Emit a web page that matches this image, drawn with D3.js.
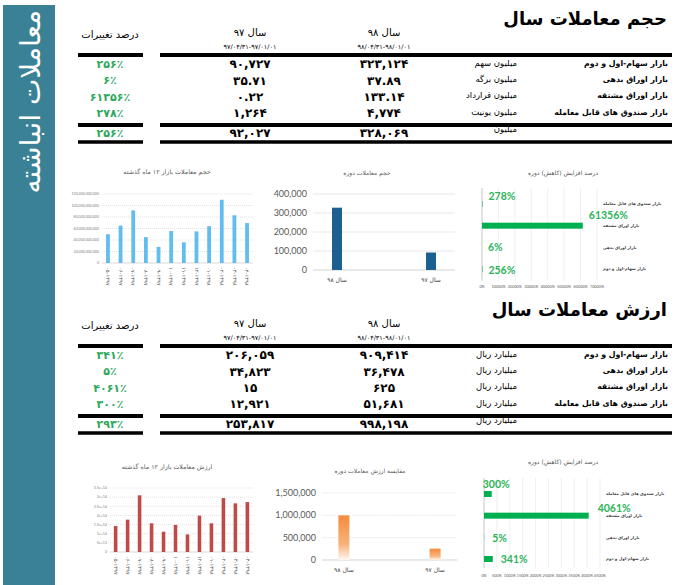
<!DOCTYPE html>
<html>
<head>
<meta charset="utf-8">
<script src="https://cdn.jsdelivr.net/npm/d3@7"></script>
<style>
  body { margin: 0; background: #fff; }
  svg { display: block; }
</style>
</head>
<body>
<svg id="chart" width="674" height="585"></svg>
<script>
// ---- data ----
const markets = ["بازار سهام-اول و دوم", "بازار اوراق بدهی", "بازار اوراق مشتقه", "بازار صندوق های قابل معامله"];
const periods = ["سال ۹۸", "سال ۹۷"];

const volUnits = ["میلیون سهم", "میلیون برگه", "میلیون قرارداد", "میلیون یونیت"];
const volTotalUnit = "میلیون";
const vol97 = [90727, 35.71, 0.22, 1264];
const vol98 = [323124, 37.89, 133.14, 4774];
const volChange = [256, 6, 61356, 278];
const volTotal97 = 92027;
const volTotal98 = 328069;
const volTotalChange = 256;

const valUnit = "میلیارد ریال";
const val97 = [206059, 34823, 15, 12921];
const val98 = [909414, 36478, 625, 51681];
const valChange = [341, 5, 4061, 300];
const valTotal97 = 253817;
const valTotal98 = 998198;
const valTotalChange = 293;

const months = ["۰۵-۱۳۹۷", "۰۶-۱۳۹۷", "۰۷-۱۳۹۷", "۰۸-۱۳۹۷", "۰۹-۱۳۹۷", "۱۰-۱۳۹۷",
                "۱۱-۱۳۹۷", "۱۲-۱۳۹۷", "۰۱-۱۳۹۸", "۰۲-۱۳۹۸", "۰۳-۱۳۹۸", "۰۴-۱۳۹۸"];
// monthly volume, billion shares
const monthlyVol = [50, 65, 91.5, 45, 28, 55.5, 36, 55, 64, 110, 83, 69.5];
// monthly value, thousand billion rial
const monthlyVal = [142, 177, 310, 157, 111, 148, 96, 199, 157, 295, 266, 273];

const volTicks = [0, 20, 40, 60, 80, 100, 120];           // x 1e9
const valTicks = [0, 50, 100, 150, 200, 250, 300, 350];   // x 1e12
const volPeriodTicks = [0, 100000, 200000, 300000, 400000];
const valPeriodTicks = [0, 500000, 1000000, 1500000];
const volPctTicks = [0, 10000, 20000, 30000, 40000, 50000, 60000, 70000];
const valPctTicks = [0, 500, 1000, 1500, 2000, 2500, 3000, 3500, 4000, 4500];

// ---- helpers ----
const svg = d3.select("#chart");
const FA = "'DejaVu Sans', sans-serif";
const LAT = "Lato, 'Open Sans', sans-serif";
const GREEN = "#2ea85c";
const fa = s => String(s).replace(/\d/g, d => "۰۱۲۳۴۵۶۷۸۹"[+d]);
const fmtNum = v => fa(Number.isInteger(v) ? d3.format(",")(v) : d3.format(",.2f")(v));
const fmtPct = v => fa(v) + "٪";

// side band
svg.append("rect")
    .attr("x", 3).attr("y", 5).attr("width", 52).attr("height", 580)
    .attr("fill", "#3b8196");
svg.append("text")
    .attr("transform", "translate(40,10) rotate(-90)")
    .attr("text-anchor", "end")
    .attr("fill", "#fff")
    .style("font", `28px ${FA}`)
    .text("معاملات انباشته");

function drawTable(top, title, units, totalUnit, v97, v98, chg, t97, t98, tChg) {
    let g = svg.append("g").attr("transform", `translate(0,${top})`);
    let rowY = d3.scalePoint().domain(markets).range([64, 113]);
    let totalY = 133;

    g.append("text")
        .attr("x", 667).attr("y", 25).attr("text-anchor", "end")
        .style("font", `bold 18px ${FA}`)
        .text(title);

    g.append("text").attr("x", 110).attr("y", 38).attr("text-anchor", "middle")
        .style("font", `10px ${FA}`).text("درصد تغییرات");
    [["سال ۹۷", "۹۷/۰۴/۳۱-۹۷/۰۱/۰۱", 250], ["سال ۹۸", "۹۸/۰۴/۳۱-۹۸/۰۱/۰۱", 384]].forEach(h => {
        g.append("text").attr("x", h[2]).attr("y", 36).attr("text-anchor", "middle")
            .style("font", `10px ${FA}`).text(h[0]);
        g.append("text").attr("x", h[2]).attr("y", 49).attr("text-anchor", "middle")
            .style("font", `6.5px ${FA}`).text(h[1]);
    });

    // rules
    [[55, 4], [125, 4], [142, 3.5]].forEach(r => {
        [[78, 143], [160, 672]].forEach(s => {
            g.append("rect").attr("x", s[0]).attr("y", r[0] - r[1] / 2)
                .attr("width", s[1] - s[0]).attr("height", r[1]).attr("fill", "#000");
        });
    });

    let rows = g.append("g").selectAll("g").data(markets).join("g")
        .attr("transform", d => `translate(0,${rowY(d)})`);
    rows.append("text").attr("x", 110).attr("dy", "0.35em").attr("text-anchor", "middle")
        .attr("fill", GREEN).style("font", `bold 11px ${FA}`)
        .text((d, i) => fmtPct(chg[i]));
    rows.append("text").attr("x", 250).attr("dy", "0.35em").attr("text-anchor", "middle")
        .style("font", `bold 12px ${FA}`).text((d, i) => fmtNum(v97[i]));
    rows.append("text").attr("x", 384).attr("dy", "0.35em").attr("text-anchor", "middle")
        .style("font", `bold 12px ${FA}`).text((d, i) => fmtNum(v98[i]));
    rows.append("text").attr("x", 517).attr("dy", "0.2em").attr("text-anchor", "end")
        .style("font", `8.5px ${FA}`).text((d, i) => units[i]);
    rows.append("text").attr("x", 668).attr("dy", "0.2em").attr("text-anchor", "end")
        .style("font", `bold 7.8px ${FA}`).text(d => d);

    let tot = g.append("g").attr("transform", `translate(0,${totalY})`);
    tot.append("text").attr("x", 110).attr("dy", "0.35em").attr("text-anchor", "middle")
        .attr("fill", GREEN).style("font", `bold 11px ${FA}`).text(fmtPct(tChg));
    tot.append("text").attr("x", 250).attr("dy", "0.35em").attr("text-anchor", "middle")
        .style("font", `bold 12px ${FA}`).text(fmtNum(t97));
    tot.append("text").attr("x", 384).attr("dy", "0.35em").attr("text-anchor", "middle")
        .style("font", `bold 12px ${FA}`).text(fmtNum(t98));
    tot.append("text").attr("x", 517).attr("dy", "-0.1em").attr("text-anchor", "end")
        .style("font", `8.5px ${FA}`).text(totalUnit);
}

function drawMonthly(o) {
    let g = svg.append("g");
    let x = d3.scaleBand().domain(months).range([o.x0, o.x1]).paddingInner(0.7).paddingOuter(0.32);
    let y = d3.scaleLinear().domain([0, d3.max(o.ticks)]).range([o.yBot, o.yTop]);

    g.append("text").attr("x", 167).attr("y", o.titleY).attr("text-anchor", "middle")
        .attr("fill", "#595959").style("font", `6.3px ${FA}`).text(o.title);

    g.append("g").selectAll("line").data(o.ticks.slice(1)).join("line")
        .attr("x1", o.x0).attr("x2", o.x1).attr("y1", d => y(d)).attr("y2", d => y(d))
        .attr("stroke", "#d0d0d0").attr("stroke-width", 0.6).attr("stroke-dasharray", "1,1");
    g.append("line").attr("x1", o.x0).attr("x2", o.x1).attr("y1", y(0)).attr("y2", y(0))
        .attr("stroke", "#bfbfbf").attr("stroke-width", 0.6);

    g.append("g").selectAll("text").data(o.ticks).join("text")
        .attr("x", o.x0 - 3).attr("y", d => y(d)).attr("dy", "0.35em").attr("text-anchor", "end")
        .attr("fill", "#7f7f7f").style("font", `3.6px ${LAT}`)
        .text(d => d3.format(",")(d * o.unit));

    g.append("g").selectAll("rect").data(o.values).join("rect")
        .attr("x", (d, i) => x(months[i])).attr("width", x.bandwidth())
        .attr("y", d => y(d)).attr("height", d => y(0) - y(d))
        .attr("fill", o.color);

    g.append("g").selectAll("text").data(months).join("text")
        .attr("transform", d => `translate(${x(d) + x.bandwidth() / 2 - 1.8},${o.yBot + 4}) rotate(90)`)
        .attr("text-anchor", "start")
        .attr("fill", "#595959").style("font", `5.2px ${FA}`)
        .text(d => d);
}

function drawPeriod(o) {
    let g = svg.append("g");
    let x = d3.scalePoint().domain(periods).range([o.x0, o.x1]).padding(o.pad);
    let y = d3.scaleLinear().domain([0, d3.max(o.ticks)]).range([o.yBot, o.yTop]);

    g.append("text").attr("x", o.titleX).attr("y", o.titleY).attr("text-anchor", "middle")
        .attr("fill", "#595959").style("font", `6px ${FA}`).text(o.title);

    g.append("g").selectAll("line").data(o.ticks).join("line")
        .attr("x1", o.x0).attr("x2", o.x1).attr("y1", d => y(d)).attr("y2", d => y(d))
        .attr("stroke", d => d === 0 ? "#bfbfbf" : "#dcdcdc").attr("stroke-width", 0.7)
        .attr("stroke-dasharray", d => d === 0 ? null : o.dash);

    g.append("g").selectAll("text").data(o.ticks).join("text")
        .attr("x", o.x0 - 6).attr("y", d => y(d)).attr("dy", "0.35em").attr("text-anchor", "end")
        .attr("fill", "#595959").style("font", `9px ${LAT}`)
        .text(d => d3.format(",")(d));

    g.append("g").selectAll("rect").data(o.values).join("rect")
        .attr("x", (d, i) => x(periods[i]) - o.barW / 2).attr("width", o.barW)
        .attr("y", d => y(d)).attr("height", d => y(0) - y(d))
        .attr("fill", o.fill);

    g.append("g").selectAll("text").data(periods).join("text")
        .attr("x", d => x(d)).attr("y", o.yBot + 12).attr("text-anchor", "middle")
        .attr("fill", "#404040").style("font", `6px ${FA}`)
        .text(d => d);
}

function drawPct(o) {
    let g = svg.append("g");
    let rowsTopDown = markets.slice().reverse();
    let x = d3.scaleLinear().domain([0, d3.max(o.ticks)]).range([o.x0, o.x1]);
    let y = d3.scalePoint().domain(rowsTopDown).range([o.yRow0, o.yRow1]);

    g.append("text").attr("x", o.titleX).attr("y", o.titleY).attr("text-anchor", "middle")
        .attr("fill", "#595959").style("font", `6px ${FA}`).text("درصد افزایش (کاهش) دوره");

    g.append("g").selectAll("line").data(o.ticks).join("line")
        .attr("x1", d => x(d)).attr("x2", d => x(d)).attr("y1", o.gridTop).attr("y2", o.gridBot)
        .attr("stroke", d => d === 0 ? "#bfbfbf" : "#e6e6e6").attr("stroke-width", d => d === 0 ? 0.9 : 0.6);

    g.append("g").selectAll("text").data(o.ticks).join("text")
        .attr("x", d => x(d)).attr("y", o.tickY).attr("text-anchor", "middle")
        .attr("fill", "#595959").style("font", `3.8px ${LAT}`)
        .text(d => d + "%");

    g.append("g").selectAll("text").data(rowsTopDown).join("text")
        .attr("x", o.labelX).attr("y", d => y(d)).attr("dy", "0.35em")
        .attr("fill", "#404040").style("font", `bold 4px ${FA}`)
        .text(d => d);

    g.append("g").selectAll("rect").data(markets).join("rect")
        .attr("x", o.x0).attr("width", (d, i) => x(o.values[i]) - o.x0)
        .attr("y", d => y(d) - 3).attr("height", 6)
        .attr("fill", "#00b050");

    g.append("g").selectAll("text").data(markets).join("text")
        .attr("x", (d, i) => x(o.values[i]) + o.dx[i])
        .attr("y", (d, i) => y(d) + o.dy[i]).attr("dy", "0.35em")
        .attr("fill", "#2db35a").style("font", `bold 10.5px ${LAT}`)
        .text((d, i) => o.values[i] + "%");
}

// gradient for value bars
const defs = svg.append("defs");
const grad = defs.append("linearGradient").attr("id", "orangeGrad")
    .attr("x1", 0).attr("y1", 0).attr("x2", 0).attr("y2", 1);
grad.append("stop").attr("offset", "0%").attr("stop-color", "#f58b3d");
grad.append("stop").attr("offset", "65%").attr("stop-color", "#f9b27c");
grad.append("stop").attr("offset", "100%").attr("stop-color", "#fff7f0");

// ---- section 1: volume ----
drawTable(0, "حجم معاملات سال", volUnits, volTotalUnit, vol97, vol98, volChange, volTotal97, volTotal98, volTotalChange);

drawMonthly({
    x0: 102, x1: 253, yTop: 194, yBot: 263, ticks: volTicks, unit: 1e9,
    values: monthlyVol, color: "#61bdee", title: "حجم معاملات بازار ۱۲ ماه گذشته", titleY: 174
});
drawPeriod({
    x0: 313, x1: 455, yTop: 194, yBot: 270, ticks: volPeriodTicks, pad: 0.255, barW: 10,
    values: [volTotal98, volTotal97], fill: "#1b6090", dash: null,
    title: "حجم معاملات دوره", titleX: 367, titleY: 175
});
drawPct({
    x0: 482, x1: 597, ticks: volPctTicks, yRow0: 204, yRow1: 269, gridTop: 188, gridBot: 281,
    tickY: 288, labelX: 603, values: volChange, dx: [6, 6, 6, 6], dy: [1, 0, -10, -8],
    titleX: 563, titleY: 175
});

// ---- section 2: value ----
drawTable(291, "ارزش معاملات سال", [valUnit, valUnit, valUnit, valUnit], valUnit, val97, val98, valChange, valTotal97, valTotal98, valTotalChange);

drawMonthly({
    x0: 110, x1: 253, yTop: 488, yBot: 552, ticks: valTicks, unit: 1e12,
    values: monthlyVal, color: "#be4b48", title: "ارزش معاملات بازار ۱۲ ماه گذشته", titleY: 469
});
drawPeriod({
    x0: 322, x1: 457, yTop: 493, yBot: 560, ticks: valPeriodTicks, pad: 0.24, barW: 11,
    values: [valTotal98, valTotal97], fill: "url(#orangeGrad)", dash: "1.5,1",
    title: "مقایسه ارزش معاملات دوره", titleX: 370, titleY: 473
});
drawPct({
    x0: 484, x1: 600, ticks: valPctTicks, yRow0: 494, yRow1: 559, gridTop: 478, gridBot: 568,
    tickY: 577, labelX: 606, values: valChange, dx: [8, 8, 9, -9], dy: [0, 1, -7, -10],
    titleX: 563, titleY: 464
});
</script>
</body>
</html>
